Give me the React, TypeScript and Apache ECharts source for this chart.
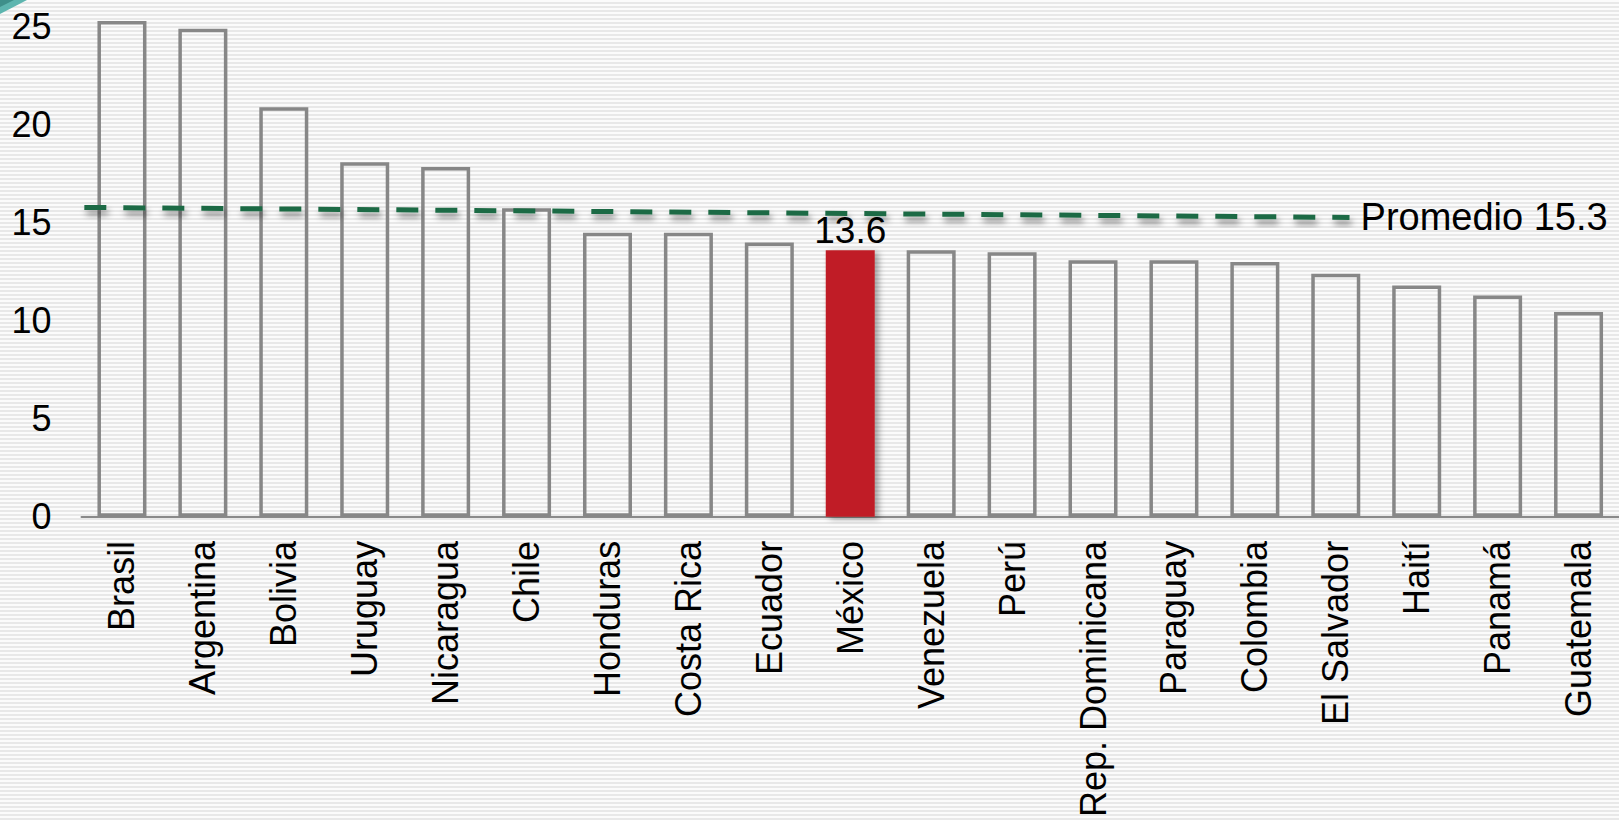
import React, { useEffect, useRef } from "react";
import * as echarts from "echarts";

const categories = [
  "Brasil", "Argentina", "Bolivia", "Uruguay", "Nicaragua", "Chile", "Honduras",
  "Costa Rica", "Ecuador", "México", "Venezuela", "Perú", "Rep. Dominicana",
  "Paraguay", "Colombia", "El Salvador", "Haití", "Panamá", "Guatemala",
];
const values = [
  25.3, 24.9, 20.9, 18.1, 17.85, 15.75, 14.5, 14.5, 14.0, 13.6, 13.6, 13.5,
  13.1, 13.1, 13.0, 12.4, 11.8, 11.3, 10.45,
];
const highlightCategory = "México";
const averageLabel = "Promedio 15.3";
// hand-drawn average line: [category position, value] at its two ends
const averageLine = [
  [-0.465, 15.79],
  [15.17, 15.28],
];
const yTicks = [0, 5, 10, 15, 20, 25];

const FONT = '"Liberation Sans", Arial, Helvetica, sans-serif';

export default function App() {
  const ref = useRef<HTMLDivElement>(null);

  useEffect(() => {
    if (!ref.current) return;
    const chart = echarts.init(ref.current, undefined, { renderer: "svg" });

    const barData = categories.map((c, i) => {
      if (c === highlightCategory) {
        return {
          value: values[i],
          itemStyle: {
            color: "#C01F28",
            borderColor: "#C01F28",
            borderWidth: 0,
            shadowColor: "rgba(0,0,0,0.35)",
            shadowBlur: 6,
            shadowOffsetX: 4,
            shadowOffsetY: 2,
          },
          label: {
            show: true,
            position: "top",
            distance: 1,
            formatter: "{c}",
            fontSize: 37,
            color: "#000",
            fontFamily: FONT,
          },
        };
      }
      return { value: values[i] };
    });

    chart.setOption({
      animation: false,
      backgroundColor: "transparent",
      grid: { left: 81.5, top: 0, width: 1540.1, height: 517.7, containLabel: false },
      xAxis: [
        {
          type: "category",
          data: categories,
          axisLine: { show: true, lineStyle: { color: "#8a8a8a", width: 2 } },
          axisTick: { show: false },
          axisLabel: {
            interval: 0,
            rotate: 90,
            margin: 24,
            fontSize: 36,
            color: "#000",
            fontFamily: FONT,
          },
          splitLine: { show: false },
        },
        {
          type: "value",
          min: -0.5,
          max: categories.length - 0.5,
          show: false,
          splitLine: { show: false },
        },
      ],
      yAxis: {
        type: "value",
        min: 0,
        max: 517.7 / 19.63,
        interval: 5,
        axisLine: { show: false },
        axisTick: { show: false },
        splitLine: { show: false },
        axisLabel: {
          margin: 30,
          fontSize: 36,
          color: "#000",
          fontFamily: FONT,
          showMaxLabel: false,
          formatter: (v: number) => (yTicks.includes(v) ? String(v) : ""),
        },
      },
      series: [
        {
          type: "bar",
          data: barData,
          barWidth: 49,
          itemStyle: {
            color: "rgba(0,0,0,0)",
            borderColor: "#878787",
            borderWidth: 3.5,
          },
          z: 2,
        },
        {
          type: "line",
          xAxisIndex: 1,
          data: averageLine,
          symbol: "none",
          z: 3,
          lineStyle: {
            color: "#1E6B45",
            width: 5,
            type: [22, 17],
            shadowColor: "rgba(0,0,0,0.45)",
            shadowBlur: 6,
            shadowOffsetX: 2,
            shadowOffsetY: 5,
          },
          endLabel: {
            show: true,
            formatter: averageLabel,
            distance: 11,
            fontSize: 38,
            color: "#000",
            fontFamily: FONT,
          },
        },
      ],
      graphic: [
        {
          type: "polygon",
          shape: { points: [[0, 0], [27, 0], [0, 14]] },
          style: { fill: "#5DB5AF" },
          z: 10,
        },
        {
          type: "polygon",
          shape: { points: [[0, 0], [14, 0], [0, 7]] },
          style: { fill: "#3E8F8A" },
          z: 11,
        },
      ],
    });

    return () => chart.dispose();
  }, []);

  return (
    <div
      style={{
        position: "fixed",
        left: 0,
        top: 0,
        width: 1619,
        height: 820,
        background:
          "repeating-linear-gradient(to bottom, #fbfbfb 0px, #fbfbfb 2px, #e8e8e8 2px, #e8e8e8 4px)",
      }}
    >
      <div ref={ref} style={{ width: 1619, height: 820 }} />
    </div>
  );
}
